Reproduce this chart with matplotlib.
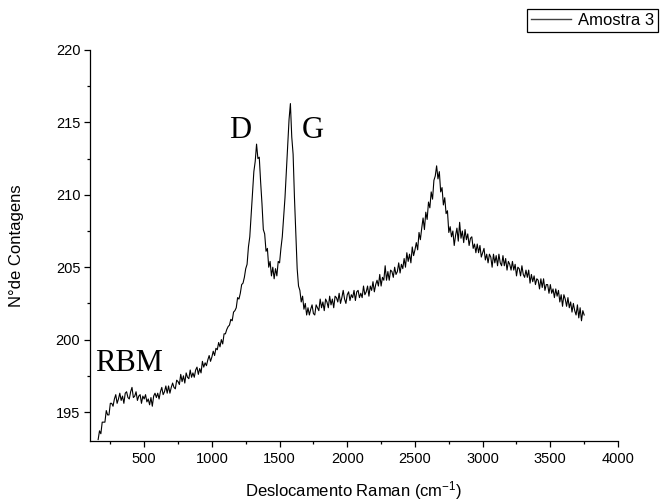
"""Raman spectrum of sample 3 (RBM, D, G and 2D bands)."""

import matplotlib
matplotlib.use("Agg")
import matplotlib.pyplot as plt
from matplotlib.ticker import MultipleLocator

plt.rcParams["font.family"] = ["Liberation Sans", "DejaVu Sans"]
plt.rcParams["mathtext.fontset"] = "custom"
plt.rcParams["mathtext.rm"] = "Liberation Sans"
plt.rcParams["mathtext.default"] = "regular"

# --- data ------------------------------------------------------------------
# low-wavenumber region: RBM shoulder and rising background
rbm_shift = [
    160, 170, 180, 190, 200, 210, 220, 230, 240, 250, 260, 270, 280, 290, 300,
    310, 320, 330, 340, 350, 360, 370, 380, 390, 400, 410, 420, 430, 440, 450,
    460, 470, 480, 490, 500, 510, 520, 530, 540, 550, 560, 570, 580, 590, 600,
    610, 620, 630, 640, 650, 660, 670, 680, 690, 700, 710, 720, 730, 740, 750,
    760, 770, 780, 790, 800, 810, 820, 830, 840, 850, 860, 870, 880, 890, 900,
    910, 920, 930, 940, 950, 960, 970, 980, 990, 1000, 1010, 1020, 1030, 1040,
    1050, 1060, 1070, 1080, 1090, 1100,
]
rbm_counts = [
    193.1, 193.7, 193.5, 194.3, 194.3, 194.3, 195.1, 194.8, 194.8, 195.6,
    195.6, 195.4, 195.9, 196.2, 195.6, 195.9, 196.3, 195.8, 196.1, 195.6,
    196.3, 196.4, 196.0, 195.9, 196.4, 196.7, 196.0, 196.1, 196.4, 195.8,
    196.1, 196.2, 195.6, 196.1, 195.9, 196.2, 195.7, 195.9, 195.5, 196.0,
    195.4, 196.1, 196.3, 196.0, 196.3, 195.9, 196.4, 196.7, 196.2, 196.4,
    196.8, 196.3, 196.8, 196.3, 196.7, 197.0, 196.7, 196.6, 197.2, 197.1,
    196.9, 197.6, 197.1, 197.5, 197.0, 197.7, 197.4, 197.3, 197.9, 197.4,
    197.7, 197.4, 197.9, 198.1, 197.6, 198.0, 197.7, 198.5, 198.1, 198.4,
    198.2, 198.6, 198.9, 198.5, 198.8, 199.2, 198.9, 199.4, 199.3, 199.8,
    199.5, 200.0, 199.7, 200.4, 200.4,
]

# D and G bands
dg_shift = [
    1110, 1120, 1130, 1140, 1150, 1160, 1170, 1180, 1190, 1200, 1210, 1220,
    1230, 1240, 1250, 1260, 1270, 1280, 1290, 1300, 1310, 1320, 1330, 1340,
    1350, 1360, 1370, 1380, 1390, 1400, 1410, 1420, 1430, 1440, 1450, 1460,
    1470, 1480, 1490, 1500, 1510, 1520, 1530, 1540, 1550, 1560, 1570, 1580,
    1590, 1600, 1610, 1620, 1630, 1640, 1650, 1660, 1670, 1680, 1690, 1700,
]
dg_counts = [
    200.7, 200.9, 201.0, 201.4, 201.3, 201.9, 202.0, 202.2, 202.9, 202.8, 203.2,
    203.8, 203.9, 204.3, 204.9, 205.2, 206.4, 207.1, 208.6, 210.2, 211.6, 212.3,
    213.5, 212.5, 212.6, 210.9, 209.4, 207.6, 207.3, 206.1, 206.3, 205.0, 205.4,
    204.4, 205.0, 204.2, 204.9, 204.4, 205.4, 205.3, 206.3, 207.1, 208.4, 209.8,
    211.6, 213.5, 215.2, 216.3, 214.0, 212.8, 209.8, 207.3, 204.9, 203.7, 203.4,
    202.6, 203.0, 202.1, 202.5, 201.7,
]

# background, 2D band and high-wavenumber tail
hi_shift = [
    1710, 1720, 1730, 1740, 1750, 1760, 1770, 1780, 1790, 1800, 1810, 1820,
    1830, 1840, 1850, 1860, 1870, 1880, 1890, 1900, 1910, 1920, 1930, 1940,
    1950, 1960, 1970, 1980, 1990, 2000, 2010, 2020, 2030, 2040, 2050, 2060,
    2070, 2080, 2090, 2100, 2110, 2120, 2130, 2140, 2150, 2160, 2170, 2180,
    2190, 2200, 2210, 2220, 2230, 2240, 2250, 2260, 2270, 2280, 2290, 2300,
    2310, 2320, 2330, 2340, 2350, 2360, 2370, 2380, 2390, 2400, 2410, 2420,
    2430, 2440, 2450, 2460, 2470, 2480, 2490, 2500, 2510, 2520, 2530, 2540,
    2550, 2560, 2570, 2580, 2590, 2600, 2610, 2620, 2630, 2640, 2650, 2660,
    2670, 2680, 2690, 2700, 2710, 2720, 2730, 2740, 2750, 2760, 2770, 2780,
    2790, 2800, 2810, 2820, 2830, 2840, 2850, 2860, 2870, 2880, 2890, 2900,
    2910, 2920, 2930, 2940, 2950, 2960, 2970, 2980, 2990, 3000, 3010, 3020,
    3030, 3040, 3050, 3060, 3070, 3080, 3090, 3100, 3110, 3120, 3130, 3140,
    3150, 3160, 3170, 3180, 3190, 3200, 3210, 3220, 3230, 3240, 3250, 3260,
    3270, 3280, 3290, 3300, 3310, 3320, 3330, 3340, 3350, 3360, 3370, 3380,
    3390, 3400, 3410, 3420, 3430, 3440, 3450, 3460, 3470, 3480, 3490, 3500,
    3510, 3520, 3530, 3540, 3550, 3560, 3570, 3580, 3590, 3600, 3610, 3620,
    3630, 3640, 3650, 3660, 3670, 3680, 3690, 3700, 3710, 3720, 3730, 3740,
    3750,
]
hi_counts = [
    202.2, 201.7, 202.1, 202.4, 201.8, 201.7, 202.4, 202.2, 202.0, 202.8,
    202.2, 202.6, 202.0, 202.8, 202.6, 202.2, 203.0, 202.4, 202.8, 202.2,
    203.0, 202.9, 202.6, 203.2, 202.5, 202.9, 203.4, 202.8, 202.5, 203.1,
    203.3, 202.7, 203.1, 202.9, 203.4, 202.7, 203.3, 203.4, 202.9, 203.2,
    202.9, 203.7, 203.1, 203.3, 203.7, 203.0, 203.7, 203.4, 204.0, 203.3,
    203.8, 204.1, 203.7, 204.5, 203.7, 204.3, 204.1, 205.1, 204.1, 204.7,
    204.1, 204.8, 204.7, 204.3, 205.0, 204.5, 204.7, 205.3, 204.6, 205.2,
    204.9, 205.6, 205.0, 206.0, 205.4, 205.9, 205.3, 206.4, 205.8, 206.2,
    206.7, 206.2, 207.4, 206.9, 207.7, 208.4, 207.6, 208.8, 208.3, 209.5,
    209.1, 210.2, 209.7, 211.0, 211.3, 212.0, 211.1, 211.6, 210.2, 210.5,
    209.3, 209.8, 208.7, 208.9, 207.4, 207.8, 207.1, 207.5, 206.5, 207.2,
    207.7, 206.8, 208.1, 207.0, 207.5, 206.7, 207.6, 206.9, 207.3, 206.5,
    207.0, 207.1, 206.3, 206.6, 206.0, 206.6, 206.0, 206.5, 205.7, 206.0,
    206.3, 205.5, 205.9, 205.3, 205.9, 205.7, 205.0, 205.9, 205.3, 205.8,
    205.1, 205.9, 205.3, 205.1, 205.8, 205.1, 205.6, 204.8, 205.4, 205.2,
    204.8, 205.4, 204.8, 205.2, 204.4, 205.0, 204.9, 204.4, 205.1, 204.5,
    204.3, 204.8, 204.3, 204.8, 203.9, 204.5, 204.0, 204.4, 203.8, 204.2,
    204.1, 203.5, 204.2, 203.6, 204.2, 203.4, 203.8, 203.8, 203.2, 203.8,
    203.2, 203.5, 202.9, 203.5, 203.0, 203.4, 202.6, 203.1, 202.3, 203.1,
    202.8, 202.3, 202.9, 202.2, 202.6, 201.9, 202.5, 202.0, 201.7, 202.4,
    201.5, 202.2, 201.3, 202.0, 201.7,
]

# band labels: (text, shift, counts) at the lower-left of each label
band_labels = [("RBM", 136, 197.8), ("D", 1129, 213.9), ("G", 1665, 213.9)]

shift = rbm_shift + dg_shift + hi_shift
counts = rbm_counts + dg_counts + hi_counts

# --- figure ------------------------------------------------------------------
fig = plt.figure(figsize=(6.61, 5.03), dpi=100)
ax = fig.add_axes([0.1362, 0.1233, 0.7988, 0.7773])

line, = ax.plot(shift, counts, color="black", lw=0.8, label="Amostra 3")

ax.set_xlim(100, 4000)
ax.set_ylim(193, 220)
ax.xaxis.set_major_locator(MultipleLocator(500))
ax.xaxis.set_minor_locator(MultipleLocator(250))
ax.yaxis.set_major_locator(MultipleLocator(5))
ax.yaxis.set_minor_locator(MultipleLocator(2.5))

for side in ("top", "right"):
    ax.spines[side].set_visible(False)
for side in ("left", "bottom"):
    ax.spines[side].set_linewidth(0.9)

ax.tick_params(which="both", direction="out", width=0.9, labelsize=10.5)
ax.tick_params(which="major", length=4)
ax.tick_params(which="minor", length=2.5)
ax.tick_params(axis="x", pad=4)
ax.tick_params(axis="y", pad=3)

ax.set_xlabel("Deslocamento Raman (cm$^{-1}$)", fontsize=12)
ax.set_ylabel("N°de Contagens", fontsize=12)
ax.xaxis.set_label_coords(0.5, -0.097)
ax.yaxis.set_label_coords(-0.125, 0.5)

for text, x, y in band_labels:
    ax.text(x, y, text, fontsize=22, family="Liberation Serif",
            ha="left", va="baseline")

leg = fig.legend(handles=[line], loc="upper left",
                 bbox_to_anchor=(526.5 / 661, 1 - 9 / 503),
                 fontsize=12, frameon=True, fancybox=False, edgecolor="black",
                 framealpha=1, borderpad=0.24, handlelength=2.45,
                 handletextpad=0.42, borderaxespad=0)
for h in leg.legend_handles:
    h.set_linewidth(1.0)
    h.set_color("#404040")
leg.get_frame().set_linewidth(0.9)

fig.savefig("out.png", dpi=100)
